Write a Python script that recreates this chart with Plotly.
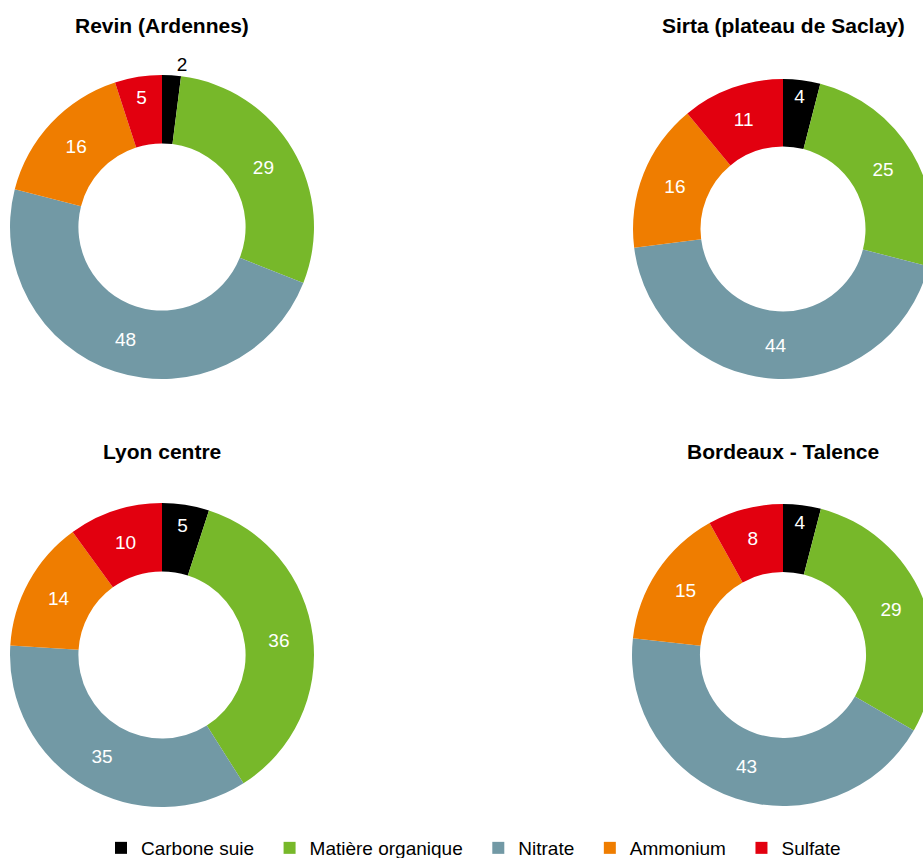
import plotly.graph_objects as go

W, H = 940, 867  # a little wider/taller than the window: right pies and legend padding are cut off

labels = ["Carbone suie", "Matière organique", "Nitrate", "Ammonium", "Sulfate"]
colors = ["#000000", "#77b82a", "#7299a5", "#ef7d00", "#e2000f"]

sites = ["Revin (Ardennes)", "Sirta (plateau de Saclay)", "Lyon centre", "Bordeaux - Talence"]
revin = [2, 29, 48, 16, 5]
sirta = [4, 25, 44, 16, 11]
lyon = [5, 36, 35, 14, 10]
bordeaux = [4, 29, 43, 15, 8]
values = [revin, sirta, lyon, bordeaux]

# pie boxes in pixels: (left, right, top, bottom), title centre
boxes = [(10, 314, 75, 379), (633, 933, 77, 381), (10, 314, 503, 807), (632, 934, 503, 807)]
title_pos = [(162, 25), (783, 25), (162, 451), (783, 451)]

FONT = "Liberation Sans, Arial, sans-serif"
NB = "\u00a0\u00a0"  # a bit more room between legend entries

fig = go.Figure()
for i, (name, vals) in enumerate(zip(sites, values)):
    l, r, t, b = boxes[i]
    fig.add_trace(go.Pie(
        labels=[s + NB for s in labels], values=vals, name=name,
        hole=0.55, sort=False, direction="clockwise", rotation=0,
        marker=dict(colors=colors, line=dict(width=0)),
        textinfo="value", textposition="auto",
        insidetextorientation="horizontal",
        insidetextfont=dict(color="white", size=19, family=FONT),
        outsidetextfont=dict(color="black", size=19, family=FONT),
        domain=dict(x=[l / W, min(r / W, 1)], y=[1 - b / H, 1 - t / H]),
        showlegend=(i == 0), hoverinfo="label+value",
    ))
    fig.add_annotation(text="<b>" + name + "</b>", x=title_pos[i][0] / W, y=1 - title_pos[i][1] / H,
                       xref="paper", yref="paper", xanchor="center", yanchor="middle",
                       showarrow=False, font=dict(size=21, color="black", family=FONT))

fig.update_layout(
    width=W, height=H, autosize=False,
    margin=dict(l=0, r=0, t=0, b=0),
    paper_bgcolor="white", plot_bgcolor="white",
    font=dict(family=FONT, color="black"),
    legend=dict(orientation="h", x=479 / W, xanchor="center", y=0, yanchor="bottom",
                font=dict(size=19), traceorder="normal"),
)

fig.write_html("out.html", config={"displayModeBar": False},
               post_script="document.body.style.margin='0';document.body.style.overflow='hidden';")
